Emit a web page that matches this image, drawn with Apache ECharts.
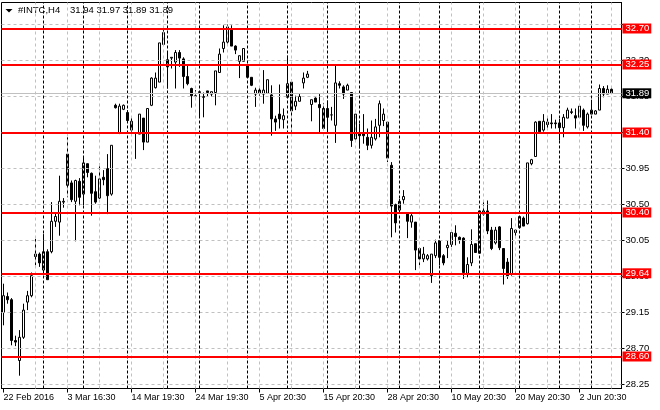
<!DOCTYPE html>
<html><head><meta charset="utf-8">
<script src="https://cdn.jsdelivr.net/npm/echarts@6/dist/echarts.min.js"></script>
<style>html,body{margin:0;padding:0;background:#fff}#c{width:660px;height:410px}</style>
</head><body><div id="c"></div><script>
const symbol = '#INTC,H4';
const open = [
29.15,29.35,29.31,28.80,28.55,28.84,29.28,29.36,29.88,29.88,
29.68,29.91,29.91,30.29,30.28,30.53,31.13,30.77,30.54,30.79,
30.63,31.01,30.89,30.66,30.58,30.84,30.95,30.63,31.74,31.39,
31.69,31.65,31.54,31.40,31.38,31.58,31.28,31.74,31.96,32.03,
32.50,32.22,32.33,32.28,32.40,32.32,32.10,31.95,31.85,31.90,
31.85,31.92,31.88,31.90,32.15,32.45,32.53,32.68,32.48,32.29,
32.29,32.25,32.09,31.88,31.93,31.88,31.89,31.87,31.57,31.63,
31.56,31.84,32.03,31.73,31.79,32.02,32.09,31.75,31.83,31.75,
31.70,31.70,31.62,31.49,32.01,31.97,31.93,31.90,31.32,31.40,
31.39,31.34,31.24,31.32,31.49,31.55,31.53,30.99,30.50,30.43,
30.56,30.38,30.28,30.28,29.95,29.82,29.82,29.61,29.86,30.05,
29.86,29.96,30.00,30.14,30.09,30.08,29.64,29.77,30.01,29.89,
30.42,30.42,30.18,30.02,30.22,29.95,29.78,29.63,30.18,30.21,
30.33,30.26,31.01,31.10,31.54,31.43,31.53,31.52,31.52,31.52,
31.46,31.58,31.65,31.61,31.59,31.68,31.47,31.63,31.63,31.68,
31.95,31.88,31.94];
const high = [
29.51,29.40,29.33,28.86,28.93,29.26,29.42,29.65,30.07,29.90,
30.13,29.94,30.53,30.40,30.86,30.58,31.34,30.80,30.81,30.83,
31.09,31.01,30.90,30.86,31.01,30.93,31.13,31.24,31.76,31.76,
31.75,31.68,31.59,31.40,31.63,31.58,31.70,32.09,32.15,32.52,
32.68,32.40,32.34,32.43,32.43,32.34,32.24,31.96,31.93,31.92,
31.90,31.92,31.91,32.17,32.45,32.74,32.75,32.74,32.49,32.36,
32.45,32.25,32.09,31.96,31.96,32.18,32.06,31.99,31.61,32.00,
31.70,32.36,32.06,31.86,31.88,32.15,32.17,31.81,31.84,31.88,
31.77,31.80,31.72,32.24,32.04,31.99,32.01,31.90,31.63,31.51,
31.63,31.45,31.55,31.57,31.80,31.70,31.53,31.03,30.51,30.57,
30.68,30.40,30.39,30.28,29.96,29.97,29.88,29.88,30.06,30.05,
29.88,30.05,30.18,30.24,30.10,30.09,29.84,30.19,30.01,30.42,
30.55,30.55,30.22,30.22,30.23,29.95,29.83,30.33,30.19,30.35,
30.35,31.02,31.07,31.54,31.54,31.63,31.58,31.63,31.56,31.57,
31.63,31.71,31.70,31.70,31.74,31.70,31.65,31.81,31.68,32.00,
31.98,31.99,31.97];
const low = [
28.99,29.26,28.74,28.73,28.36,28.82,29.18,29.34,29.74,29.72,
29.65,29.56,29.89,30.22,30.11,30.46,30.59,30.53,30.04,30.49,
30.49,30.84,30.36,30.51,30.57,30.74,30.38,30.61,31.70,31.38,
31.68,31.54,31.41,31.07,31.38,31.18,31.28,31.73,31.95,32.03,
32.50,31.95,32.20,31.95,32.22,31.95,31.99,31.71,31.84,31.59,
31.59,31.85,31.85,31.74,32.15,32.40,32.51,32.48,32.38,32.08,
32.29,32.09,31.98,31.72,31.86,31.76,31.89,31.36,31.42,31.45,
31.45,31.83,31.41,31.68,31.79,31.95,32.08,31.54,31.78,31.39,
31.43,31.39,31.55,31.27,31.95,31.82,31.93,31.22,31.30,31.20,
31.26,31.18,31.20,31.30,31.34,31.48,31.03,30.09,30.15,30.40,
30.51,30.08,30.21,29.68,29.74,29.78,29.80,29.52,29.83,29.74,
29.74,29.83,29.97,29.99,30.01,29.57,29.59,29.73,29.90,29.89,
30.36,30.13,29.93,30.00,29.93,29.50,29.57,29.61,30.08,30.20,
30.23,30.25,30.99,31.10,31.40,31.41,31.45,31.45,31.45,31.30,
31.34,31.58,31.63,31.45,31.58,31.42,31.45,31.63,31.63,31.68,
31.84,31.88,31.89];
const close = [
29.36,29.31,28.80,28.78,28.84,29.18,29.36,29.61,29.85,29.77,
29.91,29.56,30.29,30.35,30.54,30.54,30.74,30.56,30.80,30.59,
31.02,30.90,30.64,30.53,30.82,30.81,30.61,31.24,31.71,31.73,
31.74,31.55,31.43,31.39,31.63,31.28,31.70,32.08,32.08,32.52,
32.65,32.31,32.34,32.40,32.33,32.10,32.01,31.86,31.86,31.91,
31.84,31.90,31.91,32.17,32.38,32.53,32.72,32.48,32.43,32.36,
32.45,32.09,31.99,31.93,31.89,31.93,32.06,31.57,31.53,31.57,
31.61,32.01,31.67,31.79,31.85,32.08,32.13,31.81,31.78,31.71,
31.45,31.59,31.62,32.02,31.99,31.88,31.99,31.30,31.63,31.36,
31.36,31.24,31.34,31.47,31.76,31.63,31.08,30.48,30.27,30.54,
30.60,30.29,30.36,29.93,29.82,29.88,29.86,29.88,30.02,29.84,
29.77,29.99,30.15,30.10,30.06,29.65,29.75,30.00,29.90,30.42,
30.38,30.17,29.95,30.18,29.96,29.70,29.61,30.20,30.15,30.35,
30.23,31.02,31.06,31.53,31.41,31.54,31.50,31.51,31.51,31.46,
31.59,31.68,31.66,31.58,31.73,31.49,31.63,31.68,31.67,31.95,
31.88,31.94,31.89];
const timeLabels = ['22 Feb 2016','3 Mar 16:30','14 Mar 19:30','24 Mar 19:30','5 Apr 20:30',
  '15 Apr 20:30','28 Apr 20:30','10 May 20:30','20 May 20:30','2 Jun 20:30'];
const weekStarts = [10,20,31,41,49,61,71,81,89,99,109,119,129,139,147];
const levels = [32.70,32.25,31.40,30.40,29.64,28.60];
const priceTicks = [28.25,28.70,29.15,29.60,30.05,30.50,30.95,31.40,31.85,32.30,32.75];

const FONT = '"Liberation Sans",Arial,sans-serif';
const FS = 9.5;
const Y_MIN = 28.2, Y_MAX = 33.025;
const n = open.length;
const LABEL_STEP = 16, GRID_STEP = 8, SHIFT = 2;
const categories = [];
for (let i = 0; i < n + SHIFT; i++) categories.push('b' + i);
const candles = open.map((o, i) => [o, close[i], low[i], high[i]]);
const last = n - 1;
const showLabel = (idx) => idx % LABEL_STEP === 0 && idx / LABEL_STEP < timeLabels.length;
const labelTicks = priceTicks.filter(v => v < Y_MAX - 0.3);

const gridLines = priceTicks.map(v => ({ yAxis: v }));
for (let i = GRID_STEP; i < n; i += GRID_STEP) gridLines.push({ xAxis: i });
const sepLines = weekStarts.map(i => ({ xAxis: i, lineStyle: { color: '#000', type: [3, 2], width: 1 } }));

const chart = echarts.init(document.getElementById('c'), null, { renderer: 'canvas' });
chart.setOption({
  animation: false,
  backgroundColor: '#fff',
  textStyle: { fontFamily: FONT },
  grid: { left: 1.5, right: 38.5, top: 2.5, bottom: 21.5, show: true, borderColor: '#000', borderWidth: 1, backgroundColor: 'transparent' },
  xAxis: {
    type: 'category', data: categories, boundaryGap: true,
    axisLine: { show: true, lineStyle: { color: '#000' } },
    axisTick: { show: true, alignWithLabel: true, length: 4, lineStyle: { color: '#000' }, interval: showLabel },
    axisLabel: { show: true, interval: showLabel,
      formatter: (v, idx) => timeLabels[idx / LABEL_STEP] || '',
      align: 'left', margin: 5, color: '#000', fontSize: 9, fontFamily: FONT },
    splitLine: { show: false }
  },
  yAxis: {
    type: 'value', position: 'right', min: Y_MIN, max: Y_MAX, scale: true,
    axisLine: { show: true, lineStyle: { color: '#000' } },
    axisTick: { show: true, length: 3, customValues: priceTicks, lineStyle: { color: '#000' } },
    axisLabel: { show: true, customValues: labelTicks, formatter: v => v.toFixed(2), margin: 4, color: '#000', fontSize: FS, fontFamily: FONT },
    splitLine: { show: false }
  },
  series: [
    {
      type: 'line', data: [], z: 1, silent: true,
      markLine: {
        silent: true, symbol: ['none', 'none'], animation: false,
        lineStyle: { color: '#c0c0c0', type: [3, 3], width: 1 },
        label: { show: false },
        data: gridLines.concat(sepLines).concat([{
          yAxis: close[last],
          lineStyle: { color: '#c0c0c0', type: 'solid', width: 1 },
          label: { show: true, position: 'end', distance: 1, formatter: close[last].toFixed(2),
            backgroundColor: '#000', color: '#fff', fontSize: FS, fontFamily: FONT, lineHeight: 10, padding: [0, 2, 0, 3] }
        }])
      }
    },
    {
      type: 'candlestick', data: candles, z: 2, barWidth: 2,
      itemStyle: { color: '#fff', color0: '#000', borderColor: '#000', borderColor0: '#000', borderWidth: 1 }
    },
    {
      type: 'line', data: [], z: 3, silent: true,
      markLine: {
        silent: true, symbol: ['none', 'none'], animation: false,
        lineStyle: { color: '#ff0000', type: 'solid', width: 2 },
        label: { show: true, position: 'end', distance: 1, formatter: p => p.value.toFixed(2),
          backgroundColor: '#ff0000', color: '#fff', fontSize: FS, fontFamily: FONT, lineHeight: 10, padding: [0, 2, 0, 3] },
        data: levels.map(v => ({ yAxis: v }))
      }
    }
  ],
  graphic: [
    { type: 'polygon', shape: { points: [[5.5, 9], [12.5, 9], [9, 12.5]] }, style: { fill: '#000' } },
    { type: 'text', left: 18, top: 5, style: { text: symbol, font: FS + 'px ' + FONT, fill: '#000' } },
    { type: 'text', left: 70, top: 5, style: {
      text: [open[last], high[last], low[last], close[last]].map(v => v.toFixed(2)).join(' '),
      font: FS + 'px ' + FONT, fill: '#000' } }
  ]
});
</script></body></html>
